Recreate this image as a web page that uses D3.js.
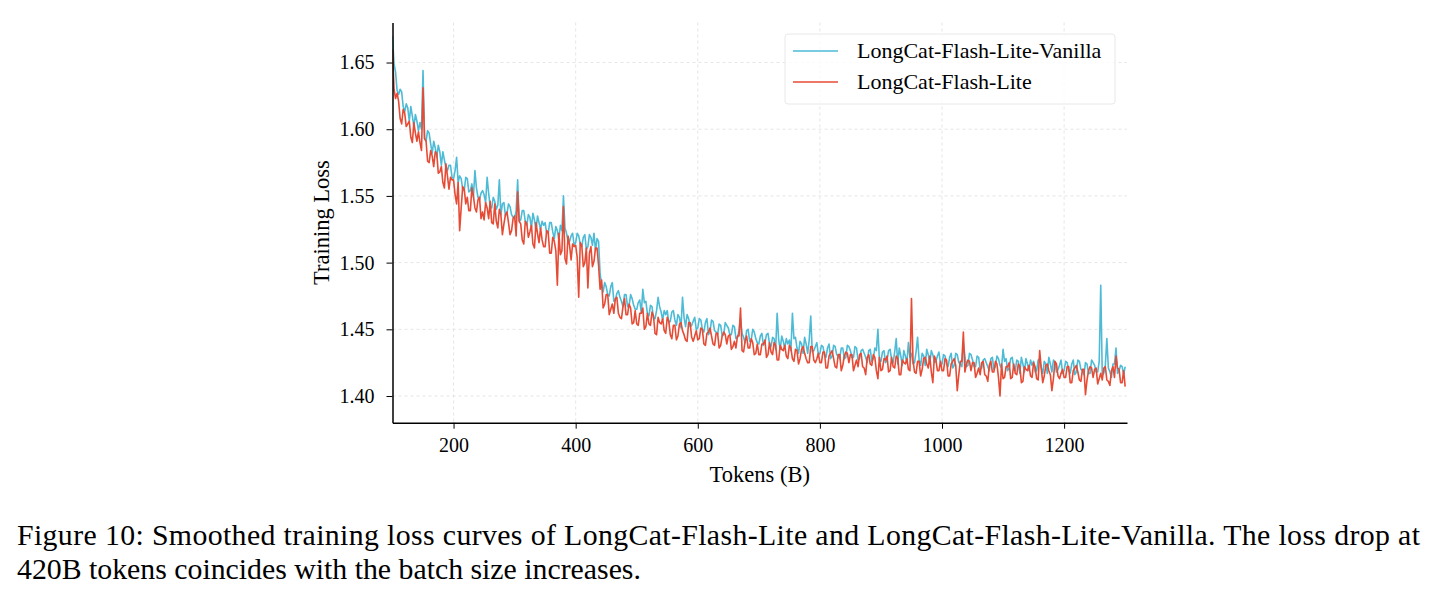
<!DOCTYPE html>
<html>
<head>
<meta charset="utf-8">
<script src="https://cdn.jsdelivr.net/npm/d3@7"></script>
<style>
    html, body { margin: 0; padding: 0; background: #fff; }
    svg { display: block; font-family: "Liberation Serif", "DejaVu Serif", serif; }
    .grid line { stroke: #dedede; stroke-width: 0.8; stroke-dasharray: 3,3; }
    .axis path, .axis line { stroke: #000; }
    .axis text { fill: #000; font-size: 20px; font-family: "Liberation Serif", serif; }
</style>
</head>
<body>
<div id="chart"></div>
<script>
(function() {
    'use strict';

    // Tokens (B): one reading every 2.5B from 100 to 1300
    var tokenStart = 100;
    var tokenStep = 2.5;

    var lossVanilla = [
        1.670, 1.649, 1.643, 1.629, 1.626, 1.630, 1.628, 1.617, 1.613, 1.619, 1.616, 1.606, 1.617, 1.610, 1.602, 1.611, 1.606, 1.599, 1.605, 1.600,
        1.644, 1.593, 1.591, 1.599, 1.597, 1.589, 1.582, 1.591, 1.586, 1.579, 1.588, 1.583, 1.573, 1.583, 1.577, 1.571, 1.569, 1.573, 1.573, 1.564,
        1.563, 1.569, 1.579, 1.560, 1.565, 1.563, 1.555, 1.554, 1.564, 1.563, 1.553, 1.554, 1.559, 1.549, 1.569, 1.556, 1.549, 1.547, 1.552, 1.554,
        1.551, 1.545, 1.564, 1.552, 1.542, 1.541, 1.549, 1.546, 1.540, 1.543, 1.562, 1.536, 1.544, 1.545, 1.535, 1.537, 1.544, 1.542, 1.536, 1.534,
        1.533, 1.539, 1.562, 1.531, 1.532, 1.539, 1.539, 1.531, 1.528, 1.536, 1.534, 1.526, 1.537, 1.532, 1.524, 1.535, 1.530, 1.525, 1.531, 1.528,
        1.530, 1.522, 1.522, 1.530, 1.530, 1.523, 1.518, 1.527, 1.524, 1.517, 1.528, 1.524, 1.550, 1.526, 1.522, 1.516, 1.516, 1.520, 1.522, 1.513,
        1.515, 1.522, 1.520, 1.514, 1.512, 1.519, 1.521, 1.510, 1.512, 1.521, 1.519, 1.513, 1.522, 1.509, 1.518, 1.516, 1.492, 1.483, 1.478, 1.485,
        1.482, 1.476, 1.475, 1.482, 1.485, 1.471, 1.472, 1.477, 1.479, 1.474, 1.471, 1.467, 1.476, 1.476, 1.467, 1.468, 1.476, 1.473, 1.468, 1.465,
        1.465, 1.470, 1.472, 1.462, 1.480, 1.470, 1.471, 1.462, 1.460, 1.468, 1.467, 1.458, 1.458, 1.464, 1.474, 1.467, 1.463, 1.457, 1.464, 1.461,
        1.464, 1.455, 1.456, 1.463, 1.464, 1.457, 1.453, 1.461, 1.459, 1.451, 1.474, 1.459, 1.452, 1.461, 1.458, 1.452, 1.453, 1.456, 1.459, 1.450,
        1.451, 1.458, 1.457, 1.450, 1.448, 1.455, 1.458, 1.446, 1.448, 1.457, 1.456, 1.449, 1.448, 1.446, 1.454, 1.453, 1.445, 1.446, 1.455, 1.453,
        1.451, 1.446, 1.446, 1.453, 1.452, 1.443, 1.444, 1.449, 1.458, 1.447, 1.444, 1.440, 1.449, 1.450, 1.441, 1.442, 1.450, 1.448, 1.443, 1.440,
        1.439, 1.445, 1.447, 1.438, 1.440, 1.446, 1.447, 1.439, 1.437, 1.444, 1.443, 1.435, 1.462, 1.442, 1.435, 1.445, 1.441, 1.436, 1.443, 1.439,
        1.442, 1.434, 1.462, 1.443, 1.444, 1.436, 1.432, 1.441, 1.439, 1.432, 1.444, 1.439, 1.432, 1.442, 1.460, 1.433, 1.434, 1.437, 1.440, 1.431,
        1.432, 1.438, 1.437, 1.431, 1.429, 1.436, 1.439, 1.428, 1.430, 1.438, 1.437, 1.431, 1.430, 1.428, 1.436, 1.436, 1.428, 1.429, 1.438, 1.437,
        1.434, 1.429, 1.429, 1.437, 1.436, 1.427, 1.428, 1.434, 1.435, 1.432, 1.429, 1.425, 1.434, 1.435, 1.426, 1.428, 1.436, 1.434, 1.450, 1.427,
        1.426, 1.433, 1.434, 1.425, 1.427, 1.434, 1.435, 1.427, 1.425, 1.433, 1.443, 1.424, 1.436, 1.430, 1.423, 1.434, 1.430, 1.425, 1.440, 1.429,
        1.432, 1.424, 1.425, 1.433, 1.444, 1.427, 1.423, 1.432, 1.430, 1.423, 1.435, 1.431, 1.424, 1.434, 1.431, 1.425, 1.426, 1.430, 1.433, 1.424,
        1.424, 1.431, 1.430, 1.424, 1.422, 1.429, 1.432, 1.421, 1.423, 1.432, 1.431, 1.425, 1.424, 1.422, 1.440, 1.430, 1.422, 1.423, 1.432, 1.431,
        1.427, 1.422, 1.422, 1.430, 1.429, 1.420, 1.421, 1.427, 1.428, 1.425, 1.422, 1.419, 1.428, 1.429, 1.420, 1.422, 1.430, 1.428, 1.423, 1.421,
        1.435, 1.426, 1.428, 1.419, 1.421, 1.428, 1.429, 1.421, 1.419, 1.427, 1.426, 1.417, 1.429, 1.424, 1.418, 1.428, 1.424, 1.419, 1.427, 1.423,
        1.426, 1.418, 1.419, 1.427, 1.428, 1.421, 1.417, 1.426, 1.424, 1.417, 1.429, 1.424, 1.418, 1.427, 1.425, 1.418, 1.420, 1.423, 1.427, 1.417,
        1.419, 1.426, 1.425, 1.419, 1.417, 1.424, 1.427, 1.416, 1.418, 1.427, 1.426, 1.420, 1.419, 1.416, 1.425, 1.424, 1.417, 1.417, 1.427, 1.425,
        1.423, 1.418, 1.418, 1.426, 1.483, 1.416, 1.417, 1.423, 1.443, 1.421, 1.418, 1.414, 1.424, 1.424, 1.436, 1.417, 1.419, 1.423, 1.422, 1.416,
        1.422
    ];

    var lossLite = [
        1.660, 1.630, 1.623, 1.627, 1.621, 1.608, 1.604, 1.615, 1.612, 1.602, 1.604, 1.606, 1.594, 1.590, 1.605, 1.597, 1.591, 1.598, 1.590, 1.584,
        1.631, 1.593, 1.591, 1.576, 1.575, 1.584, 1.580, 1.572, 1.583, 1.582, 1.567, 1.568, 1.572, 1.560, 1.556, 1.574, 1.565, 1.555, 1.564, 1.562,
        1.562, 1.551, 1.544, 1.560, 1.524, 1.541, 1.557, 1.555, 1.544, 1.549, 1.539, 1.539, 1.556, 1.550, 1.541, 1.538, 1.547, 1.549, 1.533, 1.538,
        1.532, 1.545, 1.541, 1.533, 1.546, 1.530, 1.529, 1.544, 1.531, 1.526, 1.540, 1.536, 1.521, 1.529, 1.536, 1.538, 1.530, 1.521, 1.524, 1.533,
        1.535, 1.520, 1.553, 1.531, 1.529, 1.517, 1.514, 1.531, 1.529, 1.519, 1.523, 1.528, 1.514, 1.511, 1.530, 1.522, 1.515, 1.526, 1.517, 1.512,
        1.512, 1.524, 1.523, 1.507, 1.507, 1.519, 1.516, 1.509, 1.483, 1.522, 1.506, 1.509, 1.542, 1.503, 1.499, 1.520, 1.513, 1.502, 1.514, 1.512,
        1.513, 1.504, 1.474, 1.515, 1.513, 1.497, 1.500, 1.511, 1.481, 1.507, 1.512, 1.497, 1.501, 1.511, 1.511, 1.498, 1.480, 1.487, 1.466, 1.469,
        1.476, 1.476, 1.461, 1.465, 1.469, 1.462, 1.473, 1.474, 1.462, 1.459, 1.458, 1.467, 1.473, 1.461, 1.461, 1.469, 1.466, 1.454, 1.455, 1.464,
        1.454, 1.453, 1.462, 1.462, 1.466, 1.450, 1.452, 1.462, 1.454, 1.453, 1.463, 1.460, 1.447, 1.446, 1.459, 1.455, 1.454, 1.458, 1.449, 1.447,
        1.459, 1.456, 1.446, 1.443, 1.453, 1.453, 1.442, 1.445, 1.454, 1.455, 1.449, 1.446, 1.442, 1.441, 1.455, 1.455, 1.444, 1.441, 1.445, 1.449,
        1.442, 1.443, 1.451, 1.450, 1.439, 1.438, 1.447, 1.448, 1.451, 1.445, 1.439, 1.438, 1.447, 1.447, 1.436, 1.438, 1.445, 1.448, 1.446, 1.439,
        1.445, 1.446, 1.435, 1.437, 1.441, 1.436, 1.445, 1.445, 1.466, 1.434, 1.433, 1.441, 1.445, 1.436, 1.436, 1.443, 1.440, 1.431, 1.432, 1.439,
        1.431, 1.431, 1.439, 1.439, 1.442, 1.429, 1.431, 1.440, 1.433, 1.431, 1.440, 1.438, 1.427, 1.427, 1.438, 1.435, 1.434, 1.438, 1.430, 1.428,
        1.438, 1.436, 1.428, 1.426, 1.435, 1.434, 1.424, 1.428, 1.435, 1.437, 1.432, 1.428, 1.425, 1.425, 1.437, 1.437, 1.427, 1.425, 1.428, 1.432,
        1.425, 1.425, 1.433, 1.433, 1.421, 1.421, 1.430, 1.432, 1.434, 1.428, 1.422, 1.421, 1.431, 1.431, 1.419, 1.423, 1.430, 1.433, 1.432, 1.425,
        1.431, 1.431, 1.419, 1.423, 1.427, 1.422, 1.431, 1.432, 1.422, 1.421, 1.416, 1.429, 1.431, 1.424, 1.423, 1.431, 1.429, 1.419, 1.413, 1.429,
        1.419, 1.420, 1.428, 1.427, 1.430, 1.418, 1.419, 1.429, 1.422, 1.421, 1.430, 1.428, 1.416, 1.416, 1.427, 1.425, 1.424, 1.428, 1.420, 1.419,
        1.473, 1.427, 1.418, 1.417, 1.426, 1.426, 1.415, 1.420, 1.428, 1.429, 1.424, 1.421, 1.430, 1.418, 1.410, 1.430, 1.427, 1.419, 1.419, 1.426,
        1.419, 1.419, 1.428, 1.427, 1.415, 1.415, 1.424, 1.426, 1.428, 1.423, 1.404, 1.416, 1.426, 1.426, 1.448, 1.418, 1.424, 1.427, 1.426, 1.419,
        1.425, 1.425, 1.414, 1.417, 1.421, 1.416, 1.425, 1.426, 1.416, 1.415, 1.411, 1.423, 1.426, 1.418, 1.418, 1.426, 1.424, 1.414, 1.400, 1.424,
        1.413, 1.414, 1.422, 1.422, 1.425, 1.413, 1.414, 1.424, 1.417, 1.416, 1.424, 1.422, 1.410, 1.411, 1.422, 1.420, 1.419, 1.423, 1.415, 1.414,
        1.425, 1.422, 1.413, 1.412, 1.434, 1.421, 1.410, 1.415, 1.423, 1.424, 1.419, 1.416, 1.404, 1.413, 1.426, 1.424, 1.415, 1.413, 1.417, 1.420,
        1.414, 1.414, 1.422, 1.422, 1.410, 1.410, 1.419, 1.421, 1.423, 1.418, 1.412, 1.411, 1.420, 1.420, 1.401, 1.412, 1.419, 1.422, 1.421, 1.414,
        1.420, 1.421, 1.409, 1.413, 1.417, 1.412, 1.421, 1.422, 1.412, 1.411, 1.408, 1.419, 1.422, 1.414, 1.430, 1.421, 1.420, 1.410, 1.410, 1.419,
        1.407
    ];

    var xTicks = [200, 400, 600, 800, 1000, 1200];
    var yTicks = [1.40, 1.45, 1.50, 1.55, 1.60, 1.65];

    var seriesNames = ['LongCat-Flash-Lite-Vanilla', 'LongCat-Flash-Lite'];
    var seriesColors = ['#4DBBD5', '#E64B35'];

    var captionLines = [
        'Figure 10: Smoothed training loss curves of LongCat-Flash-Lite and LongCat-Flash-Lite-Vanilla. The loss drop at',
        '420B tokens coincides with the batch size increases.'
    ];

    var width = 1437, height = 599;
    var plot = { left: 392.5, right: 1127, top: 22.5, bottom: 422.7 };

    var x = d3.scaleLinear().domain([100, 1303]).range([plot.left, plot.right]);
    var y = d3.scaleLinear().domain([1.38, 1.68]).range([plot.bottom, plot.top]);

    var svg = d3.select('#chart').append('svg')
        .attr('width', width)
        .attr('height', height);

    // Grid
    var grid = svg.append('g').attr('class', 'grid');
    grid.selectAll('.gx').data(xTicks).join('line')
        .attr('x1', function(d) { return x(d); })
        .attr('x2', function(d) { return x(d); })
        .attr('y1', plot.top)
        .attr('y2', plot.bottom);
    grid.selectAll('.gy').data(yTicks).join('line')
        .attr('x1', plot.left)
        .attr('x2', plot.right)
        .attr('y1', function(d) { return y(d); })
        .attr('y2', function(d) { return y(d); });

    // Curves, vanilla first so the lite curve sits on top
    var line = d3.line()
        .x(function(d, i) { return x(tokenStart + i * tokenStep); })
        .y(function(d) { return y(d); });

    svg.append('defs').append('clipPath')
        .attr('id', 'plot-clip')
        .append('rect')
        .attr('x', plot.left)
        .attr('y', plot.top - 2)
        .attr('width', plot.right - plot.left)
        .attr('height', plot.bottom - plot.top + 2);

    var curves = svg.append('g').attr('clip-path', 'url(#plot-clip)');
    [lossVanilla, lossLite].forEach(function(series, k) {
        curves.append('path')
            .datum(series)
            .attr('fill', 'none')
            .attr('stroke', seriesColors[k])
            .attr('stroke-width', 1.6)
            .attr('stroke-linejoin', 'round')
            .attr('d', line);
    });

    // Axes
    var xAxis = d3.axisBottom(x)
        .tickValues(xTicks)
        .tickSize(6)
        .tickPadding(9)
        .tickSizeOuter(0)
        .tickFormat(d3.format('d'));
    svg.append('g')
        .attr('class', 'axis')
        .attr('transform', 'translate(0,' + plot.bottom + ')')
        .call(xAxis)
        .call(function(g) { g.select('.domain').attr('stroke-width', 1.5); });

    var yAxis = d3.axisLeft(y)
        .tickValues(yTicks)
        .tickSize(6)
        .tickPadding(12)
        .tickSizeOuter(0)
        .tickFormat(d3.format('.2f'));
    svg.append('g')
        .attr('class', 'axis')
        .attr('transform', 'translate(' + plot.left + ',0)')
        .call(yAxis)
        .call(function(g) { g.select('.domain').attr('stroke-width', 1.5); });

    svg.append('text')
        .attr('x', (plot.left + plot.right) / 2)
        .attr('y', 482)
        .attr('text-anchor', 'middle')
        .attr('font-size', '22.5px')
        .text('Tokens (B)');

    svg.append('text')
        .attr('transform', 'translate(329,' + ((plot.top + plot.bottom) / 2) + ') rotate(-90)')
        .attr('text-anchor', 'middle')
        .attr('font-size', '22.5px')
        .text('Training Loss');

    // Legend
    var legend = svg.append('g').attr('transform', 'translate(785,34)');
    legend.append('rect')
        .attr('width', 330)
        .attr('height', 70)
        .attr('rx', 3)
        .attr('fill', '#fff')
        .attr('fill-opacity', 0.8)
        .attr('stroke', '#e8e8e8')
        .attr('stroke-width', 1);
    seriesNames.forEach(function(name, k) {
        var ly = 17 + k * 31;
        legend.append('line')
            .attr('x1', 8).attr('x2', 53)
            .attr('y1', ly).attr('y2', ly)
            .attr('stroke', seriesColors[k])
            .attr('stroke-width', 1.3);
        legend.append('text')
            .attr('x', 72)
            .attr('y', ly + 7)
            .attr('font-size', '22px')
            .text(name);
    });

    // Caption, first line justified to the full width
    svg.append('g').selectAll('text').data(captionLines).join('text')
        .attr('x', 17)
        .attr('y', function(d, i) { return 545 + i * 34; })
        .attr('font-size', '29.8px')
        .attr('textLength', function(d, i) { return i === 0 ? 1403 : null; })
        .attr('lengthAdjust', 'spacing')
        .text(function(d) { return d; });
})();
</script>
</body>
</html>
